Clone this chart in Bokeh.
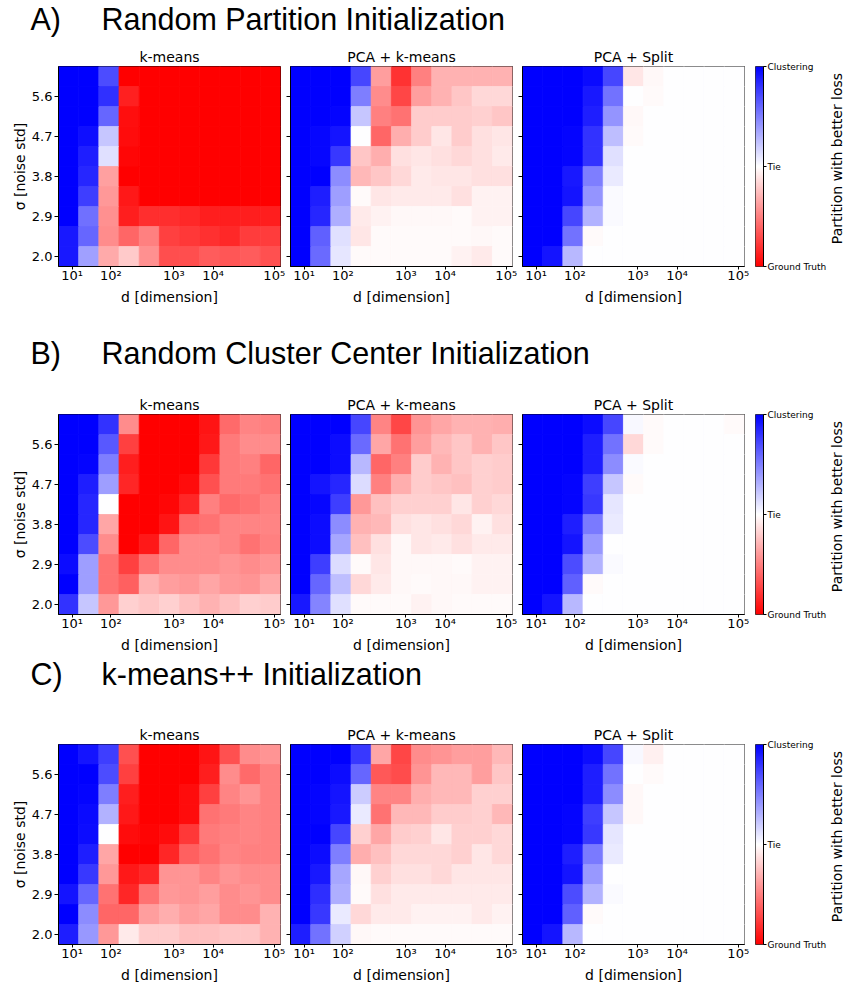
import numpy as np
from bokeh.plotting import figure
from bokeh.models import ColumnDataSource, LinearColorMapper, FixedTicker, Range1d, Label
from bokeh.layouts import row, column
from bokeh.embed import file_html
from bokeh.resources import INLINE
from bokeh.transform import linear_cmap

# ---------------- data ----------------
SIGMA = [6.05, 5.6, 5.15, 4.7, 4.25, 3.8, 3.35, 2.9, 2.45, 2.0]   # rows, top -> bottom
D_INDEX = [0, 1, 2, 3, 4, 5, 6, 7, 8, 9, 10]                        # columns (dimension grid)
X_TICK_POS = [0.17, 2.09, 5.22, 7.16, 10.19]
X_TICK_LABELS = ["10¹", "10²", "10³", "10⁴", "10⁵"]
Y_TICKS = [2.0, 2.9, 3.8, 4.7, 5.6]
Y_TICK_LABELS = ["2.0", "2.9", "3.8", "4.7", "5.6"]
CB_TICKS = [-100, 0, 100]
CB_LABELS = ["Ground Truth", "Tie", "Clustering"]

SECTION_LETTERS = ["A)", "B)", "C)"]
SECTION_TITLES = ["Random Partition Initialization",
                  "Random Cluster Center Initialization",
                  "k-means++ Initialization"]
METHODS = ["k-means", "PCA + k-means", "PCA + Split"]

# +100 = Clustering better, -100 = Ground Truth better (rows top -> bottom)
A_KMEANS = [
    [100, 100,  70, -100, -100, -100, -100, -100, -100, -100, -100],
    [100, 100,  81,  -87, -100, -100, -100, -100, -100, -100, -100],
    [100, 100,  60,  -94, -100, -100, -100, -100, -100, -100, -100],
    [100,  94,  22,  -95, -100, -100, -100, -100, -100, -100, -100],
    [100,  88,  12,  -97, -100, -100, -100, -100, -100, -100, -100],
    [100,  85, -37, -100, -100, -100, -100, -100, -100, -100, -100],
    [100,  75, -40,  -90, -100, -100, -100, -100, -100, -100, -100],
    [100,  56, -43,  -88,  -82,  -82,  -84,  -88,  -88,  -88,  -88],
    [ 90,  60, -45,  -60,  -50,  -75,  -78,  -81,  -84,  -76,  -76],
    [ 90,  37, -33,  -21,  -43,  -69,  -69,  -64,  -66,  -64,  -68],
]
A_PCA_KMEANS = [
    [100, 100, 100,  72, -38, -80, -50, -30, -30, -30, -30],
    [100, 100, 100,  50, -45, -72, -38, -30, -22, -15, -15],
    [100, 100,  98,  22, -50, -55, -20, -20, -20, -18, -22],
    [100,  97,  92,   0, -60, -32, -20, -10, -20, -12, -10],
    [100,  97,  78, -22, -32, -12, -10, -12, -15, -12,  -8],
    [100, 100,  45, -28, -22, -15,  -8, -10, -10, -12, -12],
    [100,  88,  38,  -2, -10,  -8,  -8,  -8, -12,  -5,  -5],
    [100,  85,  32,  -8,  -5,  -3,  -3,  -3,  -2,  -5,  -5],
    [100,  62,  12, -10,  -2,  -2,  -2,  -2,  -2,  -3,  -2],
    [100,  58,  10,  -2,  -2,  -2,  -2,  -2,  -5,  -8,  -2],
]
A_PCA_SPLIT = [
    [100, 100, 100,  96,  72, -10,  -3,   0,   0,   0,   0],
    [100, 100, 100,  90,  55,   0,  -2,   0,   0,   0,   0],
    [100, 100, 100,  88,  42,  -3,   0,   0,   0,   0,   0],
    [100, 100,  98,  80,  25,  -2,   0,   0,   0,   0,   0],
    [100, 100,  98,  80,  12,   0,   0,   0,   0,   0,   0],
    [100, 100,  90,  50,   8,   0,   0,   0,   0,   0,   0],
    [100, 100,  92,  42,   2,   0,   0,   0,   0,   0,   0],
    [100, 100,  72,  30,   2,   0,   0,   0,   0,   0,   0],
    [100, 100,  55,  -2,   0,   0,   0,   0,   0,   0,   0],
    [100,  92,  28,   0,   0,   0,   0,   0,   0,   0,   0],
]
B_KMEANS = [
    [100, 100,  80,  -45, -100, -100, -100,  -92, -58, -48, -50],
    [100, 100,  65,  -75, -100, -100, -100,  -90, -52, -45, -45],
    [100,  98,  50,  -88, -100, -100, -100,  -78, -52, -50, -60],
    [100,  88,  38,  -85, -100, -100,  -95,  -68, -52, -52, -55],
    [100,  85,   0, -100, -100,  -97,  -85,  -50, -58, -55, -50],
    [100,  85, -35, -100, -100,  -92,  -58,  -55, -48, -48, -48],
    [100,  70, -45, -100,  -90,  -60,  -45,  -45, -48, -55, -50],
    [ 95,  38, -55,  -75,  -55,  -45,  -45,  -45, -42, -45, -42],
    [100,  38, -55,  -62,  -30,  -38,  -40,  -35, -40, -42, -35],
    [ 80,  22, -40,  -18,  -22,  -18,  -25,  -30, -25, -18, -20],
]
B_PCA_KMEANS = [
    [100, 100, 100,  72, -48, -72, -42, -35, -30, -30, -32],
    [100, 100,  95,  58, -35, -55, -38, -28, -22, -30, -22],
    [100, 100,  95,  28, -60, -50, -20, -30, -22, -18, -20],
    [100,  92,  85,  14, -50, -32, -20, -22, -25, -18, -20],
    [100,  97,  75, -40, -25, -18, -18, -18, -10, -18, -15],
    [100,  95,  45, -30, -28, -12, -10, -12, -15,  -5, -12],
    [100,  95,  35, -25, -12,  -3, -10,  -8, -12,  -8,  -8],
    [100,  75,  14,  -2, -10,  -3,  -3,  -3,  -2,  -5,  -5],
    [100,  60,  25, -15,  -8,  -3,  -2,  -3,  -3,  -5,  -5],
    [ 90,  48,  12,  -2,  -2,  -2,  -5,  -3,  -2,  -2,  -2],
]
B_PCA_SPLIT = [
    [100, 100, 100,  95,  72,   3,  -2,   0,   0,   0,  -2],
    [100, 100, 100,  88,  55, -15,  -2,   0,   0,   0,   0],
    [100, 100, 100,  88,  45,   2,   0,   0,   0,   0,   0],
    [100, 100,  98,  75,  22,  -2,   0,   0,   0,   0,   0],
    [100, 100,  98,  78,  10,   0,   0,   0,   0,   0,   0],
    [100, 100,  88,  52,   8,   0,   0,   0,   0,   0,   0],
    [100, 100,  92,  40,   0,   0,   0,   0,   0,   0,   0],
    [100, 100,  70,  30,   2,   0,   0,   0,   0,   0,   0],
    [100, 100,  62,  -2,   0,   0,   0,   0,   0,   0,   0],
    [100,  92,  28,   0,   0,   0,   0,   0,   0,   0,   0],
]
C_KMEANS = [
    [100,  92,  75, -68, -100, -100, -100, -92, -68, -45, -42],
    [100, 100,  70, -75, -100, -100, -100, -88, -45, -58, -50],
    [100,  98,  50, -88, -100, -100,  -95, -75, -48, -42, -50],
    [100,  96,  30, -90, -100, -100,  -95, -55, -52, -48, -50],
    [100,  95,   0, -95,  -98,  -95,  -78, -52, -50, -48, -50],
    [100,  88, -35, -100, -100, -85,  -62, -55, -48, -50, -50],
    [100,  78, -40, -90,  -85,  -42,  -42, -48, -42, -45, -45],
    [ 92,  60, -55, -85,  -55,  -40,  -42, -38, -45, -42, -45],
    [100,  45, -60, -60,  -38,  -32,  -38, -35, -45, -45, -30],
    [ 88,  40, -40,  -8,  -20,  -20,  -25, -25, -22, -22, -30],
]
C_PCA_KMEANS = [
    [100, 100, 100,  78, -35, -72, -45, -42, -38, -38, -28],
    [100, 100,  95,  60, -65, -70, -42, -28, -28, -38, -22],
    [100,  98,  92,  20, -48, -48, -32, -28, -28, -18, -18],
    [100,  98,  90,   8, -55, -28, -28, -20, -20, -18, -28],
    [100, 100,  72, -18, -35, -20, -18, -10, -18, -18, -15],
    [100,  95,  50, -32, -25, -15, -15, -15, -18, -10, -15],
    [100,  90,  35,  -3, -18, -12, -12, -15, -10, -10, -10],
    [100,  82,  32,  -2, -12,  -8,  -8,  -8,  -8,  -8,  -8],
    [100,  78,   8, -15,  -8,  -8,  -5,  -5,  -5,  -8,  -5],
    [ 88,  55,  18,  -3,  -2,  -2,  -2,  -2,  -2,  -2,  -2],
]
C_PCA_SPLIT = [
    [100, 100, 100,  95,  72,   3,  -6,   0,   0,   0,   0],
    [100, 100, 100,  88,  55,   0,  -2,   0,   0,   0,   0],
    [100, 100, 100,  88,  45,  -3,   0,   0,   0,   0,   0],
    [100, 100,  98,  75,  22,  -3,   0,   0,   0,   0,   0],
    [100, 100,  98,  78,  10,   0,   0,   0,   0,   0,   0],
    [100, 100,  88,  52,   8,   0,   0,   0,   0,   0,   0],
    [100, 100,  92,  40,   0,   0,   0,   0,   0,   0,   0],
    [100, 100,  70,  30,   2,   0,   0,   0,   0,   0,   0],
    [100, 100,  62,  -2,   0,   0,   0,   0,   0,   0,   0],
    [100,  92,  28,   0,   0,   0,   0,   0,   0,   0,   0],
]
SECTION_DATA = [
    [A_KMEANS, A_PCA_KMEANS, A_PCA_SPLIT],
    [B_KMEANS, B_PCA_KMEANS, B_PCA_SPLIT],
    [C_KMEANS, C_PCA_KMEANS, C_PCA_SPLIT],
]

# ---------------- styling ----------------
def bwr_palette(n=256):
    pal = []
    for i in range(n):
        t = i / (n - 1)
        if t < 0.5:
            r, g, b = 1.0, 2 * t, 2 * t
        else:
            r, g, b = 2 * (1 - t), 2 * (1 - t), 1.0
        pal.append("#%02x%02x%02x" % (round(r * 255), round(g * 255), round(b * 255)))
    return pal

PALETTE = bwr_palette()
MAPPER = LinearColorMapper(palette=PALETTE, low=-100, high=100)

FRAME_W, FRAME_H = 222, 200
TOP_B = 22
SANS = "DejaVu Sans"
TITLE_FONT = "Liberation Sans"

# per section: (title fig height, title centre from its top, bottom border of row)
SECTION_GEOM = [(44, 18, 41), (85, 45.5, 41), (67, 18, 41)]


def style_axes(p):
    for ax in (p.xaxis, p.yaxis):
        ax.major_tick_in = 0
        ax.major_tick_out = 4
        ax.minor_tick_line_color = None
        ax.axis_line_color = "black"
        ax.major_tick_line_color = "black"
        ax.major_label_standoff = 2
        ax.major_label_text_font = SANS
        ax.major_label_text_font_size = "13px"
        ax.major_label_text_color = "black"
        ax.axis_label_text_font = SANS
        ax.axis_label_text_font_size = "14px"
        ax.axis_label_text_font_style = "normal"
        ax.axis_label_text_color = "black"
    p.xgrid.visible = False
    p.ygrid.visible = False


def heatmap(title, grid, first, last, bot):
    left = 58 if first else 4
    right = 7 if last else 6
    p = figure(width=left + FRAME_W + right, height=TOP_B + FRAME_H + bot,
               x_range=Range1d(-0.5, 10.5), y_range=Range1d(1.775, 6.275),
               output_backend="svg", toolbar_location=None,
               min_border_left=left, min_border_right=right,
               min_border_top=TOP_B, min_border_bottom=bot, title=title)
    p.title.align = "center"
    p.title.text_font = SANS
    p.title.text_font_size = "14px"
    p.title.text_font_style = "normal"
    p.title.text_color = "black"
    p.title.standoff = 3
    xs, ys, vs = [], [], []
    for ri, sig in enumerate(SIGMA):
        for ci, d in enumerate(D_INDEX):
            xs.append(d)
            ys.append(sig)
            vs.append(grid[ri][ci])
    src = ColumnDataSource(dict(x=xs, y=ys, v=vs))
    cm = linear_cmap("v", PALETTE, -100, 100)
    p.rect(x="x", y="y", width=1, height=0.45, source=src,
           fill_color=cm, line_color=cm, line_width=0.8)
    style_axes(p)
    p.outline_line_color = "black"
    p.outline_line_width = 1
    p.xaxis.ticker = FixedTicker(ticks=X_TICK_POS)
    p.xaxis.major_label_overrides = {t: l for t, l in zip(X_TICK_POS, X_TICK_LABELS)}
    p.xaxis.axis_label = "d [dimension]"
    p.xaxis.major_tick_out = 3
    p.xaxis.major_label_standoff = -2
    p.xaxis.axis_label_standoff = 3
    p.yaxis.ticker = FixedTicker(ticks=Y_TICKS)
    if first:
        p.yaxis.major_label_overrides = {t: l for t, l in zip(Y_TICKS, Y_TICK_LABELS)}
        p.yaxis.axis_label = "σ [noise std]"
        p.yaxis.axis_label_standoff = 1
    else:
        p.yaxis.major_label_overrides = {t: "" for t in Y_TICKS}
        p.yaxis.major_label_standoff = 0
    return p


def colorbar_fig(bot):
    p = figure(width=4 + 11 + 63, height=TOP_B + FRAME_H + bot, x_range=Range1d(0, 1),
               y_range=Range1d(-100, 100), output_backend="svg", toolbar_location=None,
               min_border_left=4, min_border_right=63, min_border_top=TOP_B,
               min_border_bottom=bot, y_axis_location="right", x_axis_type=None,
               title=None)
    grad = np.linspace(-100, 100, 256).reshape(256, 1)
    p.image(image=[grad], x=0, y=-100, dw=1, dh=200, color_mapper=MAPPER)
    style_axes(p)
    p.outline_line_color = "black"
    p.outline_line_width = 0.8
    p.yaxis.ticker = FixedTicker(ticks=CB_TICKS)
    p.yaxis.major_label_overrides = {t: l for t, l in zip(CB_TICKS, CB_LABELS)}
    p.yaxis.major_label_text_font_size = "9px"
    p.yaxis.major_tick_out = 3
    p.yaxis.major_label_standoff = 1
    return p


def colorbar_label_fig(bot):
    p = figure(width=20, height=TOP_B + FRAME_H + bot, x_range=Range1d(0, 1),
               y_range=Range1d(-100, 100), output_backend="svg", toolbar_location=None,
               min_border_left=0, min_border_right=0, min_border_top=TOP_B,
               min_border_bottom=bot, x_axis_type=None, y_axis_type=None, title=None)
    p.outline_line_color = None
    p.xgrid.visible = False
    p.ygrid.visible = False
    p.add_layout(Label(x=0.38, y=8, angle=np.pi / 2, text="Partition with better loss",
                       text_align="center", text_baseline="middle",
                       text_font=SANS, text_font_size="14px", text_color="black"))
    return p


def section_title(letter, text, h, yc):
    t = figure(width=849, height=h, x_range=Range1d(0, 849), y_range=Range1d(0, h),
               min_border=0, toolbar_location=None, output_backend="svg",
               x_axis_type=None, y_axis_type=None, title=None)
    t.outline_line_color = None
    t.xgrid.visible = False
    t.ygrid.visible = False
    for x, s in ((30, letter), (101, text)):
        t.add_layout(Label(x=x, y=h - yc, text=s, text_align="left", text_baseline="middle",
                           text_font=TITLE_FONT, text_font_size="30.5px",
                           text_color="black"))
    return t


items = []
for si in range(3):
    h, yc, bot = SECTION_GEOM[si]
    items.append(section_title(SECTION_LETTERS[si], SECTION_TITLES[si], h, yc))
    figs = [heatmap(METHODS[k], SECTION_DATA[si][k], k == 0, k == 2, bot) for k in range(3)]
    figs.append(colorbar_fig(bot))
    figs.append(colorbar_label_fig(bot))
    items.append(row(*figs, spacing=0))

layout = column(*items, spacing=0)
open("out.html", "w").write(file_html(layout, INLINE))
